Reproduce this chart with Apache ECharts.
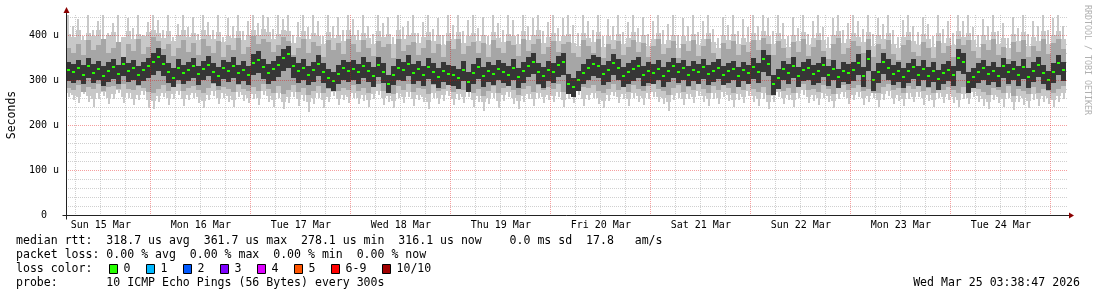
<!DOCTYPE html>
<html><head><meta charset="utf-8">
<script src="https://cdn.jsdelivr.net/npm/echarts@6/dist/echarts.min.js"></script>
<style>html,body{margin:0;padding:0;background:#fff}#c{width:1097px;height:297px}</style>
</head><body><div id="c"></div>
<script>
// time axis: hours after Sun 15 Mar 00:00
const startHour = 3.646;          // Sun 15 Mar 03:38:47
const stepHours = 1.2;            // one column of the picture
const dayLabels = ['Sun 15 Mar','Mon 16 Mar','Tue 17 Mar','Wed 18 Mar','Thu 19 Mar','Fri 20 Mar','Sat 21 Mar','Sun 22 Mar','Mon 23 Mar','Tue 24 Mar'];
const dayNoonHours = [12,36,60,84,108,132,156,180,204,228];
const yTicks = [0,100,200,300,400];
const yLabels = ['0  ','100 u','200 u','300 u','400 u'];
const yMax = 444.44;

// values in microseconds
// highest ping (thin spikes)
const lightHi = [
444,420,436,398,444,412,430,444,405,426,444,392,438,415,444,401,428,
444,433,410,444,396,425,444,418,440,403,444,429,411,444,395,437,420,444,408,431,
444,426,444,440,413,444,435,444,401,428,444,417,444,432,398,444,421,439,410,444,
436,412,444,420,403,444,427,441,396,444,418,432,444,405,428,444,414,437,399,444,
423,444,408,434,444,415,440,398,444,426,411,444,433,402,444,419,437,444,409,428,
444,416,438,444,422,405,444,431,412,444,398,436,420,444,407,429,444,415,441,403,
432,444,411,425,444,400,438,419,444,406,431,444,414,393,440,423,444,408,435,417,
444,421,444,437,409,444,426,398,441,415,444,403,430,444,418,396,437,444,411,427,
444,430,414,444,402,437,424,444,410,395,433,444,419,406,441,425,398,444,413,430,
405,444,432,444,418,399,436,421,444,408,427,393,440,416,444,402,431,419,444,410,
438,444,421];
// upper edge of the solid light smoke
const lightBody = [
402,395,410,388,405,398,412,392,400,407,385,396,409,390,403,397,406,
412,404,393,408,386,399,411,395,405,389,410,401,392,407,384,398,394,409,388,400,
410,399,414,406,391,403,412,408,383,396,409,390,404,398,380,407,393,401,386,411,
401,388,405,394,381,408,396,402,379,410,390,399,404,383,395,406,387,400,378,404,
390,407,382,398,405,386,401,377,406,393,384,403,397,380,408,389,399,410,383,395,
404,386,397,402,383,376,405,394,385,407,373,398,389,403,379,393,406,384,400,375,
392,404,380,389,401,372,397,386,403,377,391,405,384,370,399,388,402,379,394,385,
405,389,409,398,379,404,392,374,401,386,407,377,393,405,388,371,400,409,382,392,
404,396,384,407,376,399,390,405,381,370,395,406,387,378,402,391,373,404,383,394,
378,408,396,405,388,373,400,389,407,380,394,371,403,386,406,375,395,387,408,381,
400,409,390];
// lower edge of the solid light smoke
const lightBase = [
270,266,262,276,264,258,270,274,260,268,278,262,271,257,267,275,255,
254,264,272,259,269,276,258,266,271,262,254,267,275,260,270,264,256,273,266,261,
268,259,276,264,255,270,252,262,273,257,266,250,261,271,255,263,274,258,267,262,
271,260,266,255,269,276,259,264,253,270,262,273,257,267,263,252,271,260,266,275,
258,268,262,273,256,265,250,260,270,254,267,274,261,253,264,269,257,272,262,267,
265,273,256,268,262,276,257,267,271,260,254,266,274,263,269,257,272,264,259,270,
274,263,260,250,267,271,258,269,263,276,264,257,270,261,273,266,256,268,262,275,
264,258,270,252,265,273,260,267,256,271,277,262,266,259,272,264,254,269,273,261,
267,273,259,264,271,255,268,275,261,266,257,270,263,274,260,267,255,272,262,268,
262,256,269,260,273,265,258,252,267,262,257,271,250,264,260,254,268,257,264,261,
256,265,270];
// lowest ping (thin spikes)
const lightLo = [
262,255,248,268,251,240,258,264,246,257,270,249,260,244,256,266,238,
236,250,262,245,258,267,243,255,261,249,238,256,265,247,259,252,241,263,254,248,
257,245,266,252,240,259,235,248,262,243,253,229,247,260,238,250,264,244,256,249,
261,247,254,240,258,266,245,251,237,259,248,263,242,255,250,236,260,246,253,265,
244,256,249,262,241,252,230,246,259,238,254,263,247,235,250,258,243,261,248,255,
252,262,240,257,248,266,243,255,260,246,238,253,264,249,257,242,261,250,245,258,
263,250,246,232,255,260,244,257,249,265,251,242,258,247,262,253,240,256,248,264,
250,243,258,235,252,262,246,255,241,259,266,248,253,244,260,251,238,257,262,247,
255,262,244,251,259,240,256,264,247,253,242,258,250,263,245,254,239,260,248,256,
249,240,257,246,262,252,243,236,255,248,241,259,233,250,245,238,256,242,251,247,
240,252,258];
const midLo = [
283,278,288,274,285,280,290,276,284,287,279,292,281,277,286,282,273,
270,279,289,276,284,291,275,282,287,278,271,283,290,277,285,280,274,288,281,276,
284,275,291,280,272,286,268,277,289,274,282,266,276,287,270,279,290,275,283,278,
288,276,282,271,286,292,275,280,269,287,277,290,273,283,279,268,288,276,281,291,
274,285,278,289,272,281,265,276,287,270,282,290,277,267,280,286,273,288,278,284,
281,290,273,272,268,278,284,282,288,276,270,281,291,278,285,273,289,280,275,286,
290,279,276,266,283,288,274,285,278,292,280,272,286,277,289,282,271,284,278,291,
279,273,285,267,270,280,276,283,272,286,292,278,281,274,288,280,269,285,289,277,
283,289,275,280,271,270,284,291,277,282,272,286,279,290,275,283,270,287,278,284,
278,270,285,276,289,281,273,267,283,277,271,286,265,279,275,269,284,272,280,276,
271,281,286];
const midHi = [
372,360,381,355,388,366,377,392,359,370,385,352,379,364,390,357,374,
395,386,368,380,353,371,389,362,383,356,391,375,360,387,351,378,366,393,358,374,
398,380,392,384,363,378,396,387,355,372,390,361,385,376,350,389,367,382,357,391,
379,362,388,370,354,386,373,381,349,391,365,377,384,356,371,389,360,380,352,387,
368,390,357,376,385,361,382,350,388,371,359,387,378,353,390,364,380,392,358,373,
386,363,379,384,360,352,388,375,361,392,348,380,369,386,355,374,389,362,383,351,
376,390,358,370,386,349,381,365,388,354,375,391,361,346,383,369,387,356,378,363,
389,367,393,380,355,387,371,349,384,362,390,353,374,388,364,347,381,393,358,372,
387,376,360,391,352,380,369,388,357,345,377,389,363,353,384,370,348,386,359,375,
352,392,378,389,364,348,381,367,390,355,373,346,385,362,388,350,376,365,391,357,
383,392,369];
const darkLo = [
298,294,301,290,305,293,299,287,296,303,291,308,295,300,288,297,304,
312,320,309,293,284,301,292,297,304,289,299,308,294,286,302,296,305,291,298,288,
310,316,302,291,298,307,319,327,304,294,301,288,296,309,293,283,276,290,300,295,
299,292,304,295,285,306,293,270,288,301,297,309,291,298,287,303,292,282,295,289,
287,280,297,273,290,302,284,295,289,299,293,286,300,282,294,306,314,291,283,297,
293,307,312,268,262,276,291,301,309,304,288,296,312,300,285,292,298,305,287,294,
292,300,285,296,304,293,301,287,298,292,303,289,295,302,288,294,299,284,297,290,
303,293,318,309,266,281,299,291,305,285,297,301,289,294,307,287,300,282,295,291,
297,312,284,319,275,293,314,301,289,296,282,294,302,287,300,284,295,278,291,298,
287,321,314,272,283,293,301,288,296,285,304,292,299,287,302,282,295,307,290,277,
293,310,297];
const darkHi = [
340,336,345,333,349,335,342,330,339,347,334,352,337,344,331,341,348,
360,370,355,337,326,346,334,341,349,332,343,353,338,329,345,339,350,334,342,331,
358,364,347,335,343,354,368,376,350,338,346,331,341,356,337,325,318,333,345,339,
344,336,350,340,329,352,337,312,331,346,341,355,335,343,330,348,337,326,339,333,
332,325,343,317,335,348,329,340,334,345,338,331,346,327,340,352,361,337,328,342,
338,353,359,314,305,320,336,347,355,350,333,342,358,346,329,338,344,351,332,340,
335,344,329,340,349,337,345,330,342,336,347,333,339,346,331,338,343,328,341,334,
348,337,366,355,312,325,343,335,350,328,341,346,333,338,352,330,344,325,339,335,
341,358,329,367,320,337,361,346,333,340,326,338,347,331,344,328,339,322,335,342,
331,369,361,317,327,337,345,332,340,328,349,336,343,330,347,326,339,352,334,321,
337,356,341];
const median = [
322,318,326,312,330,316,324,309,321,328,314,335,319,326,311,323,330,
341,352,336,318,305,327,315,322,330,313,324,334,318,309,326,320,331,315,323,312,
338,345,328,316,324,334,348,358,331,319,327,312,322,336,318,305,297,314,326,320,
325,317,330,321,309,333,318,290,312,327,322,335,316,324,311,329,318,306,320,314,
312,304,323,296,315,328,309,320,314,325,318,311,326,307,320,332,341,317,308,322,
318,333,339,292,284,299,316,327,335,330,313,322,338,326,309,318,324,331,312,320,
316,325,309,321,330,318,326,311,323,317,328,314,320,327,312,319,324,308,322,315,
329,318,346,335,290,305,324,316,331,309,322,327,314,319,333,311,325,306,320,316,
322,338,309,347,300,318,341,327,314,321,306,319,328,312,325,308,320,302,316,323,
312,349,341,296,307,318,326,313,321,309,330,317,324,311,328,306,320,333,315,301,
318,337,322];

const lossLabels = ['0','1','2','3','4','5','6-9','10/10'];
const lossColors = ['#26ff00','#00b8ff','#0059ff','#7e00ff','#dd00ff','#ff5500','#ff0000','#a10000'];
const legendLines = [
  'median rtt:  318.7 us avg  361.7 us max  278.1 us min  316.1 us now    0.0 ms sd  17.8   am/s',
  'packet loss: 0.00 % avg  0.00 % max  0.00 % min  0.00 % now',
  'loss color:',
  'probe:       10 ICMP Echo Pings (56 Bytes) every 300s'
];
const stampText = 'Wed Mar 25 03:38:47 2026';
const sideText = 'RRDTOOL / TOBI OETIKER';

const MONO = "'DejaVu Sans Mono', monospace";
const C_LIGHT = '#c8c8c8', C_MID = '#a6a6a6', C_DARK = '#363636', C_MED = lossColors[0];

const N = median.length;
const endHour = startHour + N * stepHours;
const cols = median.map((m, i) => [startHour + i * stepHours, startHour + (i + 1) * stepHours,
  lightLo[i], lightBase[i], lightBody[i], Math.min(lightHi[i], yMax),
  midLo[i], midHi[i], darkLo[i], darkHi[i], m]);

const vGrid = [];
for (let h = 6; h < endHour; h += 6) if (h > startHour) vGrid.push([h, h % 24 === 0 ? 1 : 0]);
const hGrid = [];
for (let v = 20; v < yMax; v += 20) hGrid.push([v, v % 100 === 0 ? 1 : 0]);

const GRAY = 'rgba(110,110,110,0.32)', RED = 'rgba(230,0,0,0.38)';

function smoke(params, api) {
  const x0 = api.value(0), x1 = api.value(1);
  const L = Math.round(api.coord([x0, 0])[0]), R = Math.round(api.coord([x1, 0])[0]);
  const yy = v => Math.round(api.coord([x0, v])[1]);
  const rect = (x, w, lo, hi, fill) => {
    const t = yy(Math.max(lo, hi)), b = yy(Math.min(lo, hi));
    return { type: 'rect', shape: { x, y: t, width: w, height: b - t }, style: { fill } };
  };
  const m = yy(api.value(10));
  return { type: 'group', children: [
    rect(L + 2, 2, api.value(2), api.value(3), C_LIGHT),          // low spike
    rect(L, R - L, api.value(3), api.value(4), C_LIGHT),          // solid light body
    rect(L + 1, 2, api.value(4), api.value(5), C_LIGHT),          // high spike
    rect(L, R - L, api.value(6), api.value(7), C_MID),
    rect(L, R - L, api.value(8), api.value(9), C_DARK),
    { type: 'rect', shape: { x: L + 1, y: m - 1, width: 3, height: 2 }, style: { fill: C_MED } }
  ]};
}
function vLine(params, api) {
  const cs = params.coordSys;
  const x = Math.floor(api.coord([api.value(0), 0])[0]) + 0.5;
  return { type: 'line', shape: { x1: x, y1: cs.y, x2: x, y2: cs.y + cs.height }, style: { stroke: api.value(1) ? RED : GRAY, lineWidth: 1, lineDash: [1, 1] } };
}
function hLine(params, api) {
  const cs = params.coordSys;
  const y = Math.round(api.coord([startHour, api.value(0)])[1]) + 0.5;
  return { type: 'line', shape: { x1: cs.x, y1: y, x2: cs.x + cs.width + 2, y2: y }, style: { stroke: api.value(1) ? RED : GRAY, lineWidth: 1, lineDash: [1, 1] } };
}

const chart = echarts.init(document.getElementById('c'), null, { renderer: 'canvas' });
chart.setOption({
  animation: false,
  backgroundColor: '#fff',
  grid: { left: 66, top: 15, width: 1000, height: 200, containLabel: false, outerBoundsMode: 'none' },
  xAxis: {
    type: 'value', min: startHour, max: endHour,
    axisLine: { show: false }, axisTick: { show: false }, splitLine: { show: false },
    axisLabel: { customValues: dayNoonHours, formatter: v => dayLabels[dayNoonHours.indexOf(v)] || '',
      fontFamily: MONO, fontSize: 10, color: '#000', margin: 5 }
  },
  yAxis: {
    type: 'value', min: 0, max: yMax,
    axisLine: { show: false }, axisTick: { show: false }, splitLine: { show: false },
    axisLabel: { customValues: yTicks, formatter: v => yLabels[yTicks.indexOf(v)] || '',
      fontFamily: MONO, fontSize: 10, color: '#000', margin: 7 },
    name: 'Seconds', nameLocation: 'middle', nameGap: 48,
    nameTextStyle: { fontFamily: MONO, fontSize: 11.5, color: '#000' }
  },
  series: [
    { type: 'custom', z: 1, silent: true, renderItem: vLine, data: vGrid.filter(d => !d[1]), encode: { x: 0, y: 1 } },
    { type: 'custom', z: 1, silent: true, renderItem: hLine, data: hGrid.filter(d => !d[1]), encode: { y: 0, x: 1 } },
    { type: 'custom', z: 2, silent: true, renderItem: smoke, data: cols, encode: { x: [0, 1], y: [2, 3, 4, 5, 6, 7, 8, 9, 10] } },
    { type: 'custom', z: 3, silent: true, renderItem: vLine, data: vGrid.filter(d => d[1]), encode: { x: 0, y: 1 } },
    { type: 'custom', z: 3, silent: true, renderItem: hLine, data: hGrid.filter(d => d[1]), encode: { y: 0, x: 1 } }
  ]
});

// axes, arrows and legend text
const o = chart.convertToPixel({ gridIndex: 0 }, [startHour, 0]);
const e = chart.convertToPixel({ gridIndex: 0 }, [endHour, yMax]);
const ox = Math.round(o[0]) + 0.5, oy = Math.round(o[1]) + 0.5, ex = Math.round(e[0]), ey = Math.round(e[1]);
const LFONT = '11.55px ' + MONO;
const CW = 6.96;
const els = [
  { type: 'line', shape: { x1: ox - 4, y1: oy, x2: ex + 4, y2: oy }, style: { stroke: '#222', lineWidth: 1 }, z: 10 },
  { type: 'line', shape: { x1: ox, y1: oy + 4, x2: ox, y2: ey - 3 }, style: { stroke: '#222', lineWidth: 1 }, z: 10 },
  { type: 'polygon', shape: { points: [[ex + 3, oy - 3], [ex + 8, oy], [ex + 3, oy + 3]] }, style: { fill: '#8b0000' }, z: 11 },
  { type: 'polygon', shape: { points: [[ox - 3, ey - 2], [ox, ey - 8], [ox + 3, ey - 2]] }, style: { fill: '#8b0000' }, z: 11 },
  { type: 'text', x: 1087, y: 60, rotation: -Math.PI / 2, z: 10,
    style: { text: sideText, font: '8.3px ' + MONO, fill: '#b0b0b0', align: 'center', verticalAlign: 'middle', textAlign: 'center', textVerticalAlign: 'middle' } },
  { type: 'text', z: 10, style: { text: stampText, x: 1080, y: 283, font: LFONT, fill: '#000', align: 'right', verticalAlign: 'middle', textAlign: 'right', textVerticalAlign: 'middle' } }
];
legendLines.forEach((t, i) => {
  els.push({ type: 'text', z: 10, style: { text: t, x: 16, y: 241 + i * 14, font: LFONT, fill: '#000', align: 'left', verticalAlign: 'middle', textAlign: 'left', textVerticalAlign: 'middle' } });
});
let bx = 109;
lossLabels.forEach((lab, i) => {
  els.push({ type: 'rect', z: 10, shape: { x: bx + 0.5, y: 264.5, width: 8, height: 9 }, style: { fill: lossColors[i], stroke: '#000', lineWidth: 1 } });
  const tx = bx + 14.5;
  els.push({ type: 'text', z: 10, style: { text: lab, x: tx, y: 269, font: LFONT, fill: '#000', align: 'left', verticalAlign: 'middle', textAlign: 'left', textVerticalAlign: 'middle' } });
  bx = Math.round(tx + lab.length * CW + 15.5);
});
chart.setOption({ graphic: { elements: els } });
</script></body></html>
